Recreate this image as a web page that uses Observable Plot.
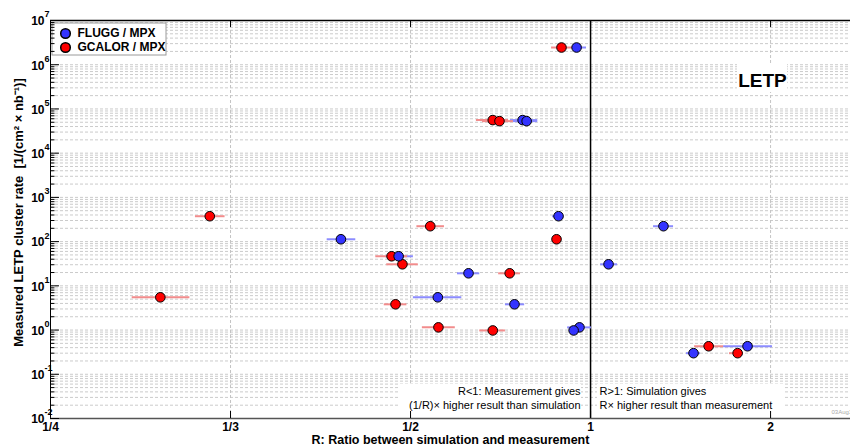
<!DOCTYPE html>
<html><head><meta charset="utf-8">
<script src="https://cdn.jsdelivr.net/npm/d3@7"></script>
<script src="https://cdn.jsdelivr.net/npm/@observablehq/plot@0.6"></script>
<style>html,body{margin:0;padding:0;background:#fff;}</style>
</head><body><div id="chart"></div>
<script>
// Measured LETP cluster rate [1/(cm² × nb⁻¹)], one per measurement (shared by both simulations)
const rate = [2.45e6, 5.6e4, 5.3e4, 375, 223, 113, 46.6, 30.7, 19.2, 5.5, 3.82, 1.15, 0.98, 0.43, 0.30];
// FLUGG / MPX ratio R and its error range
const fluggR  = [0.928, 0.726, 0.738, 0.849, 1.405, 0.419, 0.484, 1.10, 0.596, 0.541, 0.703, 0.942, 0.914, 1.872, 1.572];
const fluggLo = [0.909, 0.692, 0.700, 0.826, 1.350, 0.406, 0.468, 1.056, 0.575, 0.504, 0.679, 0.887, 0.895, 1.739, 1.533];
const fluggHi = [0.978, 0.773, 0.773, 0.870, 1.461, 0.434, 0.504, 1.150, 0.619, 0.583, 0.732, 1.005, 0.935, 2.011, 1.611];
// GCALOR / MPX ratio R and its error range
const gcalorR  = [0.861, 0.648, 0.664, 0.321, 0.529, 0.841, 0.475, 0.489, 0.690, 0.295, 0.480, 0.542, 0.648, 1.656, 1.817];
const gcalorLo = [0.822, 0.612, 0.625, 0.313, 0.509, 0.830, 0.456, 0.469, 0.662, 0.282, 0.466, 0.517, 0.619, 1.578, 1.772];
const gcalorHi = [0.914, 0.687, 0.700, 0.330, 0.552, 0.852, 0.496, 0.511, 0.720, 0.310, 0.495, 0.571, 0.679, 1.739, 1.850];

const seriesNames = ["FLUGG / MPX", "GCALOR / MPX"];
const seriesColors = ["#3333ff", "#ff0000"];
const barColors = ["#8c8cff", "#f28c8c"];

// x-axis ticks (R values) and labels
const xTickR = [0.25, 1/3, 0.5, 1, 2];
const xTickLabels = ["1/4", "1/3", "1/2", "1", "2"];
// y-axis decades
const yDecades = [-2, -1, 0, 1, 2, 3, 4, 5, 6, 7];

// symmetric ratio axis: R<1 plotted as 2-1/R, R>=1 as R
const tr = R => R >= 1 ? R : 2 - 1 / R;

const flugg = rate.map((v, i) => ({rate: v, R: fluggR[i], lo: fluggLo[i], hi: fluggHi[i]}));
const gcalor = rate.map((v, i) => ({rate: v, R: gcalorR[i], lo: gcalorLo[i], hi: gcalorHi[i]}));

const yMinor = [];
for (const k of yDecades.slice(0, -1)) for (let m = 1; m <= 9; m++) yMinor.push(m * 10 ** k);
const yMajor = yDecades.map(k => 10 ** k);

const xMin = tr(0.25);
const majLen = 9 / 180, minLen = 4.5 / 180; // tick lengths in x units

// white background boxes (frame-relative pixel offsets)
const box = (x, y, w, h, stroke) => (index, scales, values, dims) => {
  const r = document.createElementNS("http://www.w3.org/2000/svg", "rect");
  r.setAttribute("x", dims.marginLeft + x);
  r.setAttribute("y", dims.marginTop + y);
  r.setAttribute("width", w);
  r.setAttribute("height", h);
  r.setAttribute("fill", "white");
  if (stroke) { r.setAttribute("stroke", stroke); r.setAttribute("stroke-width", 1); }
  return r;
};

const bold = "bold";
const legendEntry = i => [
  Plot.dot([seriesNames[i]], {frameAnchor: "top-left", dx: 15, dy: 13 + 14 * i, r: 4.8, fill: seriesColors[i], stroke: "black"}),
  Plot.text([seriesNames[i]], {frameAnchor: "top-left", dx: 27, dy: 13 + 14 * i, textAnchor: "start", lineAnchor: "middle", fontSize: 12, fontWeight: bold})
];
const noteLine = (txt, side, line) => Plot.text([txt], {
  x: tr(1), frameAnchor: "bottom", textAnchor: side < 0 ? "end" : "start",
  lineAnchor: "middle", dx: side < 0 ? -10 : 9, dy: line === 0 ? -27 : -13, fontSize: 11
});

const chart = Plot.plot({
  width: 850, height: 445,
  marginLeft: 50, marginRight: 0, marginTop: 20, marginBottom: 27,
  style: {fontFamily: "'Liberation Sans', Arial, sans-serif", background: "white", overflow: "visible"},
  x: {domain: [xMin, 2.444], axis: null},
  y: {type: "log", domain: [1e-2, 1e7], axis: null},
  marks: [
    // grid
    Plot.ruleY(yMinor, {stroke: "#cbcbcb", strokeDasharray: "3,2"}),
    Plot.ruleX([1/3, 0.5, 2].map(tr), {stroke: "#c4c4c4", strokeDasharray: "3,2"}),
    // text boxes
    box(2, 3, 114, 32, "#9a9a9a"),
    box(687, 43, 50, 29),
    box(348, 364, 183, 28),
    box(547, 364, 187, 28),
    // R = 1 line
    Plot.ruleX([tr(1)], {stroke: "black", strokeWidth: 1.5}),
    // frame
    Plot.ruleX([xMin], {stroke: "black"}),
    Plot.ruleY([1e7], {stroke: "black", strokeWidth: 1.5}),
    Plot.ruleY([1e-2], {stroke: "#555", strokeWidth: 1.5}),
    // y ticks
    Plot.ruleY(yMinor.filter(v => !yMajor.includes(v)), {x1: xMin, x2: xMin + minLen, stroke: "black"}),
    Plot.ruleY(yMajor, {x1: xMin, x2: xMin + majLen, stroke: "black"}),
    // x ticks (bottom and top)
    Plot.ruleX(xTickR.slice(1).map(tr), {y1: 1e-2, y2: 10 ** (-2 + 7 / 44.2), stroke: "black"}),
    Plot.ruleX(xTickR.slice(1).map(tr), {y1: 1e7, y2: 10 ** (7 - 7 / 44.2), stroke: "black"}),
    // error bars
    Plot.ruleY(flugg, {y: "rate", x1: d => tr(d.lo), x2: d => tr(d.hi), stroke: barColors[0], strokeWidth: 2}),
    Plot.ruleY(gcalor, {y: "rate", x1: d => tr(d.lo), x2: d => tr(d.hi), stroke: barColors[1], strokeWidth: 2}),
    // points
    Plot.dot(gcalor, {x: d => tr(d.R), y: "rate", r: 4.8, fill: seriesColors[1], stroke: "black", strokeWidth: 1}),
    Plot.dot(flugg, {x: d => tr(d.R), y: "rate", r: 4.8, fill: seriesColors[0], stroke: "black", strokeWidth: 1}),
    // legend
    ...legendEntry(0), ...legendEntry(1),
    // y tick labels
    Plot.text(yDecades, {y: d => 10 ** d, frameAnchor: "left", text: () => "10", textAnchor: "end", lineAnchor: "middle", dx: -6, dy: 1, fontSize: 12, fontWeight: bold}),
    Plot.text(yDecades, {y: d => 10 ** d, frameAnchor: "left", text: d => String(d), textAnchor: "start", lineAnchor: "middle", dx: -6, dy: -6, fontSize: 9, fontWeight: bold}),
    // x tick labels
    Plot.text(xTickR, {x: tr, frameAnchor: "bottom", text: (d, i) => xTickLabels[i], lineAnchor: "middle", dy: 9, fontSize: 12, fontWeight: bold}),
    // axis titles
    Plot.text(["R: Ratio between simulation and measurement"], {frameAnchor: "bottom", lineAnchor: "middle", dx: 0, dy: 21, fontSize: 12.5, fontWeight: bold}),
    Plot.text(["Measured LETP cluster rate  [1/(cm\u00b2 \u00d7 nb\u207b\u00b9)]"], {frameAnchor: "left", textAnchor: "middle", lineAnchor: "middle", dx: -32, dy: -7, rotate: -90, fontSize: 13, fontWeight: bold}),
    // annotations
    Plot.text(["LETP"], {frameAnchor: "top-right", textAnchor: "middle", lineAnchor: "middle", dx: -88, dy: 60, fontSize: 19, fontWeight: bold}),
    noteLine("R<1: Measurement gives", -1, 0),
    noteLine("(1/R)\u00d7 higher result than simulation", -1, 1),
    noteLine("R>1: Simulation gives", 1, 0),
    noteLine("R\u00d7 higher result than measurement", 1, 1),
    Plot.text(["03Aug10"], {frameAnchor: "bottom-right", textAnchor: "start", lineAnchor: "middle", dx: -19, dy: -6, fontSize: 6, fill: "#aaa"})
  ]
});
document.getElementById("chart").appendChild(chart);
</script>
</body></html>
